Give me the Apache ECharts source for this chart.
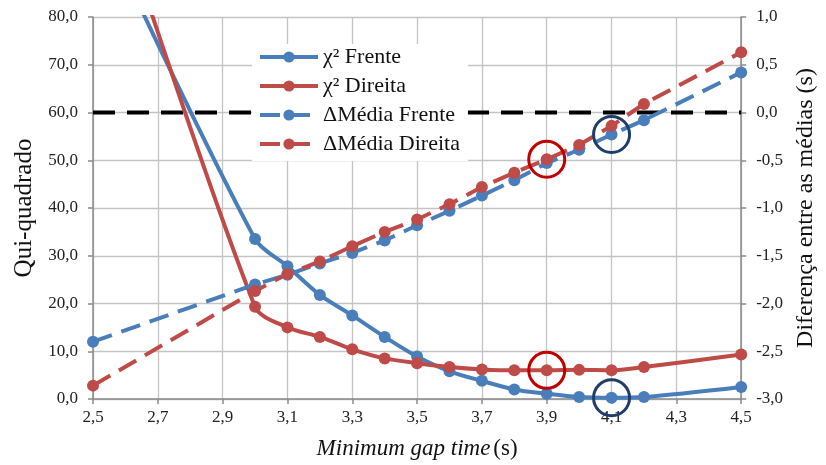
<!DOCTYPE html>
<html>
<head>
<meta charset="utf-8">
<script src="https://cdn.jsdelivr.net/npm/echarts@6/dist/echarts.min.js"></script>
<style>
  html, body { margin: 0; padding: 0; background: #fff; }
  #chart { width: 826px; height: 465px; }
</style>
</head>
<body>
<div id="chart"></div>
<script>
// valores
var gapTime = [2.5, 3.0, 3.1, 3.2, 3.3, 3.4, 3.5, 3.6, 3.7, 3.8, 3.9, 4.0, 4.1, 4.2, 4.5];
var chiFrente = [103, 33.5, 27.8, 21.8, 17.5, 13.0, 8.9, 5.8, 3.8, 2.0, 1.1, 0.4, 0.25, 0.4, 2.5];
var chiDireita = [118, 19.3, 15.0, 13.0, 10.4, 8.5, 7.5, 6.7, 6.2, 6.0, 6.0, 6.1, 6.0, 6.7, 9.3];
var difFrente = [-2.40, -1.80, -1.70, -1.58, -1.47, -1.34, -1.18, -1.03, -0.87, -0.71, -0.53, -0.39, -0.23, -0.08, 0.42];
var difDireita = [-2.86, -1.87, -1.69, -1.56, -1.40, -1.25, -1.12, -0.96, -0.78, -0.63, -0.49, -0.34, -0.14, 0.09, 0.63];
var zeroLine = [[2.5, 0], [4.5, 0]];
var legendNames = ['χ² Frente', 'χ² Direita', 'ΔMédia Frente', 'ΔMédia Direita'];
// pontos destacados (círculos)
var markRed = 3.9;
var markBlue = 4.1;

function pairs(xs, ys) {
    var out = [];
    for (var i = 0; i < xs.length; i++) out.push([xs[i], ys[i]]);
    return out;
}
function valueAt(xs, ys, x) {
    return ys[xs.indexOf(x)];
}
function fmt(v) {
    return v.toFixed(1).replace('.', ',');
}
function ring(x, y, color) {
    return {
        coord: [x, y],
        symbol: 'circle',
        symbolSize: 36,
        itemStyle: { color: 'rgba(0,0,0,0)', borderColor: color, borderWidth: 3 }
    };
}

var FONT = '"Liberation Serif", serif';
var BLUE = '#4a7ebb';
var RED = '#be4b48';
var gridColor = '#c4c4c4';
var axisColor = '#8a8a8a';

var myChart = echarts.init(document.getElementById('chart'));
var option = {
    animation: false,
    textStyle: { fontFamily: FONT },
    grid: { left: 93, right: 74, top: 17, bottom: 65 },
    legend: {
        left: 252,
        top: 44,
        orient: 'vertical',
        backgroundColor: '#fff',
        padding: [2, 8, 6, 6],
        itemGap: 7,
        itemWidth: 58,
        itemHeight: 14,
        selectedMode: false,
        lineStyle: { width: 4 },
        textStyle: { fontFamily: FONT, fontSize: 22, color: '#111' },
        data: legendNames
    },
    xAxis: {
        type: 'value',
        min: 2.5,
        max: 4.5,
        interval: 0.2,
        name: '{i|Minimum gap time} {n|(s)}',
        nameLocation: 'middle',
        nameGap: 38,
        nameTextStyle: {
            rich: {
                i: { fontFamily: FONT, fontSize: 23, fontStyle: 'italic', color: '#111' },
                n: { fontFamily: FONT, fontSize: 23, color: '#111' }
            }
        },
        axisLine: { lineStyle: { color: axisColor, width: 1.5 } },
        axisTick: { show: true, length: 5, lineStyle: { color: axisColor, width: 1.5 } },
        axisLabel: { formatter: fmt, fontFamily: FONT, fontSize: 17, color: '#222', margin: 10 },
        splitLine: { show: true, lineStyle: { color: gridColor, width: 1.3 } }
    },
    yAxis: [
        {
            type: 'value',
            min: 0,
            max: 80,
            interval: 10,
            name: 'Qui-quadrado',
            nameLocation: 'middle',
            nameGap: 52,
            nameTextStyle: { fontFamily: FONT, fontSize: 25, color: '#111' },
            axisLine: { show: true, lineStyle: { color: axisColor, width: 1.5 } },
            axisTick: { show: true, length: 5, lineStyle: { color: axisColor, width: 1.5 } },
            axisLabel: { formatter: fmt, fontFamily: FONT, fontSize: 17, color: '#222', margin: 15 },
            splitLine: { show: true, lineStyle: { color: gridColor, width: 1.3 } }
        },
        {
            type: 'value',
            min: -3,
            max: 1,
            interval: 0.5,
            position: 'right',
            name: 'Diferença entre as médias (s)',
            nameLocation: 'middle',
            nameGap: 48,
            nameRotate: 90,
            nameTextStyle: { fontFamily: FONT, fontSize: 24, color: '#111' },
            axisLine: { show: true, lineStyle: { color: axisColor, width: 1.5 } },
            axisTick: { show: true, length: 5, lineStyle: { color: axisColor, width: 1.5 } },
            axisLabel: { formatter: fmt, fontFamily: FONT, fontSize: 17, color: '#222', margin: 15 },
            splitLine: { show: false }
        }
    ],
    series: [
        {
            name: 'zero',
            type: 'line',
            yAxisIndex: 1,
            data: zeroLine,
            symbol: 'none',
            z: 1,
            lineStyle: { color: '#000', width: 4, type: [22, 12] }
        },
        {
            name: legendNames[0],
            type: 'line',
            data: pairs(gapTime, chiFrente),
            smooth: 0.3,
            symbol: 'circle',
            symbolSize: 12,
            color: BLUE,
            lineStyle: { width: 4 },
            markPoint: { data: [ring(markBlue, valueAt(gapTime, chiFrente, markBlue), '#1f3d6b')] }
        },
        {
            name: legendNames[1],
            type: 'line',
            data: pairs(gapTime, chiDireita),
            smooth: 0.3,
            symbol: 'circle',
            symbolSize: 12,
            color: RED,
            lineStyle: { width: 4 },
            markPoint: { data: [ring(markRed, valueAt(gapTime, chiDireita, markRed), '#c00000')] }
        },
        {
            name: legendNames[2],
            type: 'line',
            yAxisIndex: 1,
            data: pairs(gapTime, difFrente),
            symbol: 'circle',
            symbolSize: 12,
            color: BLUE,
            lineStyle: { width: 4, type: [20, 10] },
            markPoint: { data: [ring(markBlue, valueAt(gapTime, difFrente, markBlue), '#1f3d6b')] }
        },
        {
            name: legendNames[3],
            type: 'line',
            yAxisIndex: 1,
            data: pairs(gapTime, difDireita),
            symbol: 'circle',
            symbolSize: 12,
            color: RED,
            lineStyle: { width: 4, type: [20, 10] },
            markPoint: { data: [ring(markRed, valueAt(gapTime, difDireita, markRed), '#c00000')] }
        }
    ]
};
myChart.setOption(option);
</script>
</body>
</html>
